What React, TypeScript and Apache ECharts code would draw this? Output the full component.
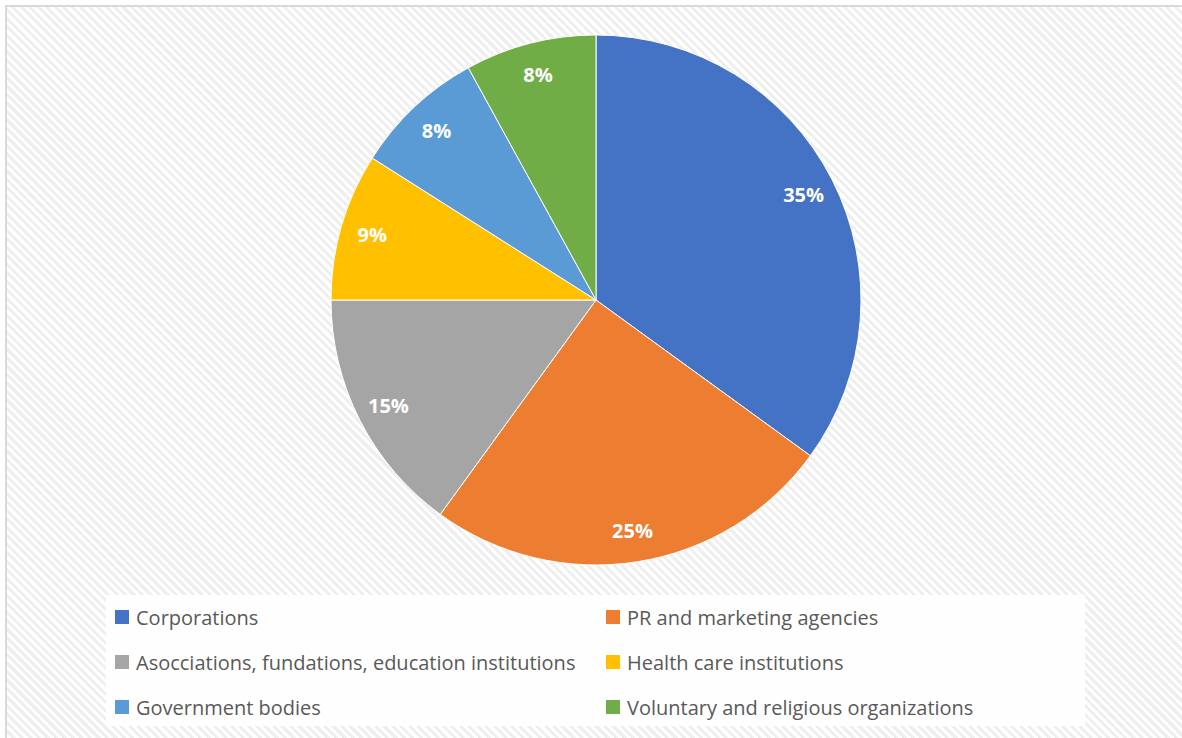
import React, { useEffect, useRef } from "react";
import * as echarts from "echarts";

const categories = [
  "Corporations",
  "PR and marketing agencies",
  "Asocciations, fundations, education institutions",
  "Health care institutions",
  "Government bodies",
  "Voluntary and religious organizations",
];
const values = [35, 25, 15, 9, 8, 8];
const colors = ["#4472C4", "#ED7D31", "#A5A5A5", "#FFC000", "#5B9BD5", "#70AD47"];

const FONT = "'Open Sans', 'Liberation Sans', sans-serif";

export default function App() {
  const ref = useRef<HTMLDivElement>(null);

  useEffect(() => {
    document.body.style.margin = "0";
    document.body.style.overflow = "hidden";
    if (!ref.current) return;
    const chart = echarts.init(ref.current, undefined, { renderer: "svg" });
    const data = categories.map((name, i) => ({
      name,
      value: values[i],
      itemStyle: { color: colors[i] },
    }));
    chart.setOption({
      animation: false,
      backgroundColor: "transparent",
      textStyle: { fontFamily: FONT },
      graphic: [
        {
          type: "rect",
          z: 0,
          shape: { x: 106, y: 595, width: 979, height: 131 },
          style: { fill: "rgba(255,255,255,0.9)" },
        },
      ],
      legend: {
        z: 5,
        left: 115,
        top: 600,
        width: 980,
        padding: 0,
        orient: "horizontal",
        itemWidth: 14,
        itemHeight: 14,
        itemGap: 11,
        icon: "rect",
        itemStyle: { borderWidth: 0 },
        data: categories,
        textStyle: {
          fontFamily: FONT,
          fontSize: 20,
          color: "#595959",
          width: 459,
          lineHeight: 34,
          padding: [0, 0, 0, 2],
        },
      },
      series: [
        {
          type: "pie",
          center: [596, 300],
          radius: [0, 265],
          startAngle: 90,
          clockwise: true,
          data,
          label: { show: false },
          labelLine: { show: false },
          itemStyle: { borderColor: "#ffffff", borderWidth: 1 },
          emphasis: { disabled: true },
        },
        {
          type: "pie",
          center: [596, 300],
          radius: [195, 265],
          startAngle: 90,
          clockwise: true,
          silent: true,
          legendHoverLink: false,
          data: categories.map((name, i) => ({ name, value: values[i] })),
          itemStyle: { color: "transparent", borderWidth: 0 },
          label: {
            show: true,
            position: "inside",
            formatter: "{c}%",
            color: "#ffffff",
            fontFamily: FONT,
            fontSize: 20,
            fontWeight: "bold",
          },
          labelLine: { show: false },
          emphasis: { disabled: true },
        },
      ],
    });
    return () => chart.dispose();
  }, []);

  return (
    <div
      style={{
        position: "fixed",
        left: 0,
        top: 0,
        width: 1182,
        height: 738,
        overflow: "hidden",
        background: "#ffffff",
      }}
    >
      <div
        style={{
          position: "absolute",
          left: 5,
          top: 5,
          width: 1300,
          height: 900,
          border: "2px solid #d9d9d9",
          background:
            "repeating-linear-gradient(45deg, #ffffff 0px, #ffffff 3px, #efefef 3px, #efefef 6px)",
        }}
      />
      <div
        ref={ref}
        style={{ position: "absolute", left: 0, top: 0, width: 1182, height: 738 }}
      />
    </div>
  );
}
